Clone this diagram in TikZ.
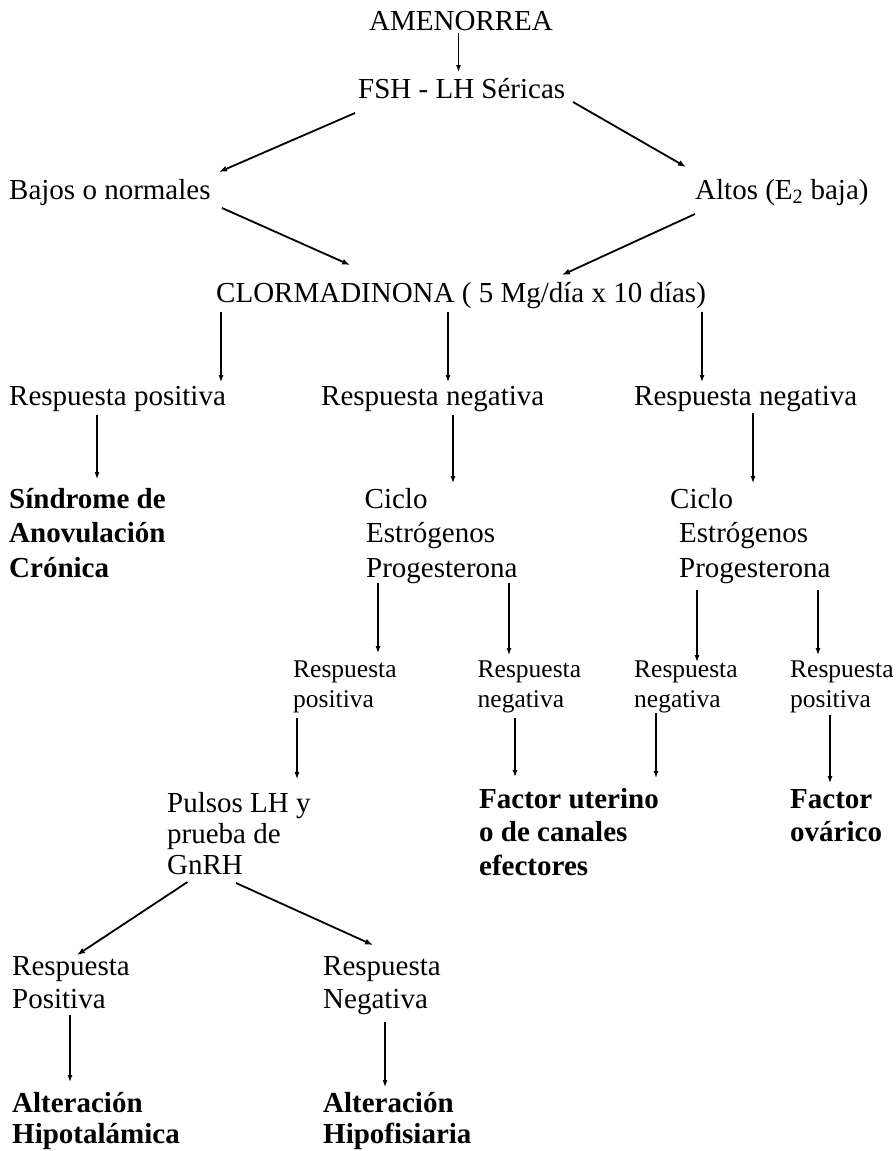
\documentclass[tikz,border=0pt]{standalone}
\usepackage{fontspec}
\setmainfont{Liberation Serif}
\usetikzlibrary{arrows.meta,calc}
\tikzset{
  txt/.style={anchor=base west, inner sep=0pt, font=\fontsize{29}{34}\selectfont},
  sml/.style={anchor=base west, inner sep=0pt, font=\fontsize{25.5}{30}\selectfont},
  bld/.style={anchor=base west, inner sep=0pt, font=\fontsize{29}{34}\selectfont\bfseries},
  arr/.style={line width=1.1pt, -{Latex[length=7pt,width=5pt]}},
  diag/.style={line width=1.8pt, -{Latex[length=8pt,width=6pt]}}
}
\begin{document}
\begin{tikzpicture}[x=1pt,y=-1pt]
\useasboundingbox (0,0) rectangle (895,1151);
% text
\node[txt] (amen) at (369,30) {AMENORREA};
\node[txt] (fsh) at (358,98) {FSH - LH Séricas};
\node[txt] (bajos) at (9,199) {Bajos o normales};
\node[txt] (altos) at (695,199) {Altos (E\textsubscript{2} baja)};
\node[txt] (clor) at (216,302) {CLORMADINONA ( 5 Mg/día x 10 días)};
\node[txt] (rp1) at (9,405) {Respuesta positiva};
\node[txt] (rn1) at (321,405) {Respuesta negativa};
\node[txt] (rn2) at (634,405) {Respuesta negativa};
\node[bld] (sindA) at (9,508) {Síndrome de};
\node[bld] (sindB) at (9,542) {Anovulación};
\node[bld] (sindC) at (9,577) {Crónica};
\node[txt] (cicA) at (364.5,508) {Ciclo};
\node[txt] (cicB) at (366,542) {Estrógenos};
\node[txt] (cicC) at (366,577) {Progesterona};
\node[txt] (cidA) at (670,508) {Ciclo};
\node[txt] (cidB) at (679,542) {Estrógenos};
\node[txt] (cidC) at (679,577) {Progesterona};
\node[sml] (s1A) at (293,677) {Respuesta};
\node[sml] (s1B) at (293,707) {positiva};
\node[sml] (s2A) at (477.5,677) {Respuesta};
\node[sml] (s2B) at (477.5,707) {negativa};
\node[sml] (s3A) at (634,677) {Respuesta};
\node[sml] (s3B) at (634,707) {negativa};
\node[sml] (s4A) at (790,677) {Respuesta};
\node[sml] (s4B) at (790,707) {positiva};
\node[txt] (pulA) at (167,812) {Pulsos LH y};
\node[txt] (pulB) at (167,843) {prueba de};
\node[txt] (pulC) at (167,874) {GnRH};
\node[bld] (facA) at (479,808) {Factor uterino};
\node[bld] (facB) at (479,841) {o de canales};
\node[bld] (facC) at (479,875) {efectores};
\node[bld] (ovaA) at (790,808) {Factor};
\node[bld] (ovaB) at (790,841) {ovárico};
\node[txt] (rpoA) at (12,975) {Respuesta};
\node[txt] (rpoB) at (12,1008) {Positiva};
\node[txt] (rneA) at (323,975) {Respuesta};
\node[txt] (rneB) at (323,1008) {Negativa};
\node[bld] (al1A) at (12,1112) {Alteración};
\node[bld] (al1B) at (12,1143) {Hipotalámica};
\node[bld] (al2A) at (323,1112) {Alteración};
\node[bld] (al2B) at (323,1143) {Hipofisiaria};
% connectors
\draw[arr] ($(amen.base west)+(89.5,3)$) -- ($(fsh.base west)+(100.5,-26)$);
\draw[diag] ($(fsh.base west)+(-3,15)$) -- ($(bajos.base west)+(210,-27)$);
\draw[diag] ($(fsh.base west)+(215,4)$) -- ($(altos.base west)+(-9,-32)$);
\draw[diag] ($(bajos.base west)+(213,9)$) -- ($(clor.base west)+(134,-37)$);
\draw[diag] ($(altos.base west)+(0,15)$) -- ($(clor.base west)+(346,-27)$);
\draw[arr] ($(clor.base west)+(5,10)$) -- ($(rp1.base west)+(212,-23)$);
\draw[arr] ($(clor.base west)+(232,10)$) -- ($(rn1.base west)+(127,-23)$);
\draw[arr] ($(clor.base west)+(486,10)$) -- ($(rn2.base west)+(68,-23)$);
\draw[arr] ($(rp1.base west)+(88,10)$) -- ($(sindA.base west)+(88,-29)$);
\draw[arr] ($(rn1.base west)+(132,10)$) -- ($(cicA.base west)+(88.5,-25)$);
\draw[arr] ($(rn2.base west)+(119,8)$) -- ($(cidA.base west)+(83,-25)$);
\draw[arr] ($(cicC.base west)+(12,6)$) -- ($(s1A.base west)+(85,-24)$);
\draw[arr] ($(cicC.base west)+(143,6)$) -- ($(s2A.base west)+(31.5,-22)$);
\draw[arr] ($(cidC.base west)+(18,13)$) -- ($(s3A.base west)+(63,-15)$);
\draw[arr] ($(cidC.base west)+(139,13)$) -- ($(s4A.base west)+(28,-22)$);
\draw[arr] ($(s1B.base west)+(4,11)$) -- ($(pulA.base west)+(130,-33)$);
\draw[arr] ($(s2B.base west)+(37.5,11)$) -- ($(facA.base west)+(36,-31)$);
\draw[arr] ($(s3B.base west)+(22,6)$) -- ($(facA.base west)+(177,-30)$);
\draw[arr] ($(s4B.base west)+(40,8)$) -- ($(ovaA.base west)+(40,-25)$);
\draw[diag] ($(pulC.base west)+(20.5,8)$) -- ($(rpoA.base west)+(65,-20)$);
\draw[diag] ($(pulC.base west)+(69,9)$) -- ($(rneA.base west)+(50,-30)$);
\draw[arr] ($(rpoB.base west)+(58,7)$) -- ($(al1A.base west)+(58,-30)$);
\draw[arr] ($(rneB.base west)+(62,14)$) -- ($(al2A.base west)+(62,-25)$);
\end{tikzpicture}
\end{document}
